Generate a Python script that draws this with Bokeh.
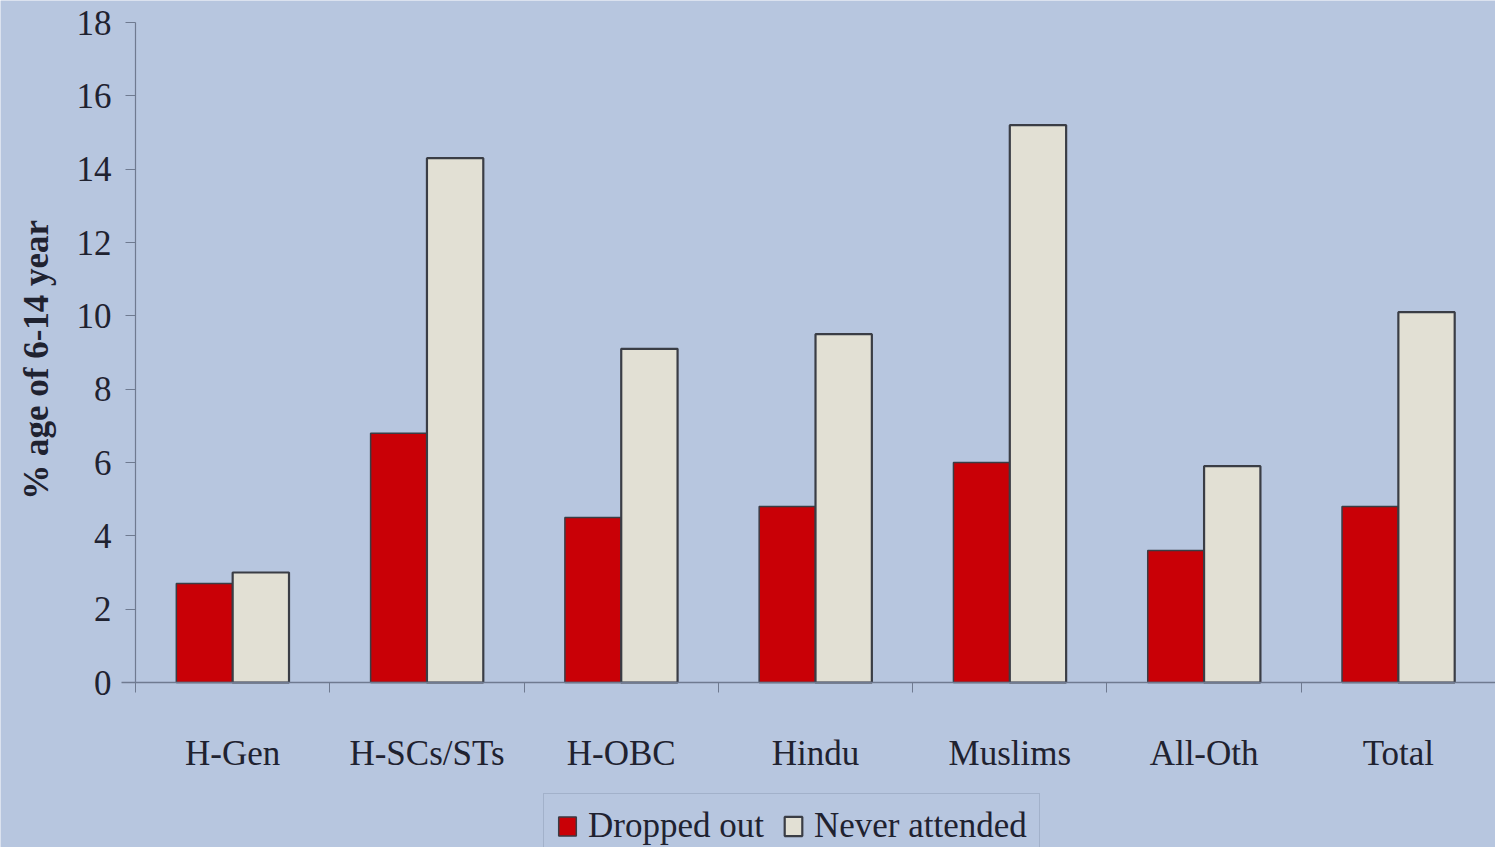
import numpy as np
from bokeh.plotting import figure
from bokeh.models import ColumnDataSource, FixedTicker, Legend, LegendItem, Range1d, Label
from bokeh.transform import dodge
from bokeh.embed import file_html
from bokeh.resources import INLINE

categories = ["H-Gen", "H-SCs/STs", "H-OBC", "Hindu", "Muslims", "All-Oth", "Total"]
dropped_out = [2.7, 6.8, 4.5, 4.8, 6.0, 3.6, 4.8]
never_attended = [3.0, 14.3, 9.1, 9.5, 15.2, 5.9, 10.1]
y_ticks = [0, 2, 4, 6, 8, 10, 12, 14, 16, 18]
y_title = "% age of 6-14 year"

BG = "#b7c6df"
RED = "#c90006"
CREAM = "#e2e0d4"
EDGE = "#3a3d45"
AXC = "#6f7a90"
FONT = "Liberation Serif"
TXT = "#1f2230"

x_pos = np.arange(len(categories)) + 0.5
src = ColumnDataSource(dict(x=x_pos, cat=categories, d=dropped_out, n=never_attended))

# the frame covers the whole canvas; axes are pinned at x=0 and y=0
p = figure(frame_width=1495, frame_height=847,
           x_range=Range1d(-0.695, len(categories)), y_range=Range1d(-4.5, 18.6),
           output_backend="svg", toolbar_location=None,
           min_border_left=0, min_border_top=0, min_border_bottom=0, min_border_right=0)
p.background_fill_color = BG
p.border_fill_color = BG
p.outline_line_color = None
p.xgrid.visible = False
p.ygrid.visible = False

bw = 0.29
r1 = p.vbar(x=dodge("x", -0.145, range=p.x_range), top="d", bottom=0, width=bw, source=src,
            fill_color=RED, line_color=EDGE, line_width=1.5)
r2 = p.vbar(x=dodge("x", 0.145, range=p.x_range), top="n", bottom=0, width=bw, source=src,
            fill_color=CREAM, line_color=EDGE, line_width=2.2)

# x axis
xa = p.xaxis[0]
xa.fixed_location = 0
xa.bounds = (-0.07, len(categories))
xa.ticker = FixedTicker(ticks=list(x_pos), minor_ticks=list(range(len(categories) + 1)))
xa.major_label_overrides = {float(x): c for x, c in zip(x_pos, categories)}
xa.major_tick_line_color = None
xa.major_tick_out = 0
xa.major_tick_in = 0
xa.minor_tick_line_color = AXC
xa.minor_tick_out = 10
xa.minor_tick_in = 0
xa.axis_line_color = AXC
xa.axis_line_width = 1.5
xa.major_label_standoff = 41
xa.major_label_text_font = FONT
xa.major_label_text_font_size = "35px"
xa.major_label_text_color = TXT

# y axis
ya = p.yaxis[0]
ya.fixed_location = 0
ya.bounds = (0, 18)
ya.ticker = FixedTicker(ticks=y_ticks)
ya.minor_tick_line_color = None
ya.major_tick_line_color = AXC
ya.major_tick_out = 10
ya.major_tick_in = 0
ya.axis_line_color = AXC
ya.axis_line_width = 1.2
ya.major_label_standoff = 14
ya.major_label_text_font = FONT
ya.major_label_text_font_size = "35px"
ya.major_label_text_color = TXT

# y-axis title
p.add_layout(Label(x=-0.51, y=8.8, text=y_title, angle=np.pi / 2,
                   text_align="center", text_baseline="middle",
                   text_font=FONT, text_font_style="bold", text_font_size="35px",
                   text_color=TXT))

legend = Legend(items=[LegendItem(label="Dropped out", renderers=[r1]),
                       LegendItem(label="Never attended", renderers=[r2])],
                orientation="horizontal", location=(543, -12))
legend.background_fill_color = BG
legend.background_fill_alpha = 1.0
legend.border_line_color = "#8d9bb5"
legend.border_line_width = 1.5
legend.label_text_font = FONT
legend.label_text_font_size = "35px"
legend.label_text_color = TXT
legend.glyph_width = 22
legend.glyph_height = 24
legend.label_standoff = 10
legend.spacing = 18
legend.padding = 12
legend.margin = 0
p.add_layout(legend, "center")

open("out.html", "w").write(file_html(p, INLINE))
